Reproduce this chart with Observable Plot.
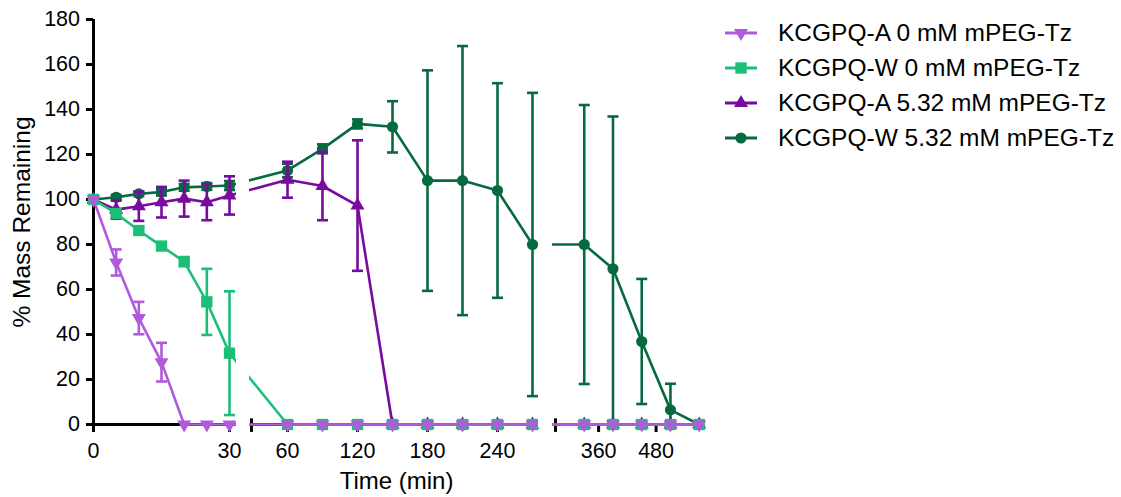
<!DOCTYPE html>
<html><head><meta charset="utf-8">
<script src="https://cdn.jsdelivr.net/npm/d3@7"></script>
<script src="https://cdn.jsdelivr.net/npm/@observablehq/plot@0.6"></script>
<style>
body{margin:0;background:#fff;font-family:"Liberation Sans",Arial,sans-serif;}
#wrap{position:relative;width:1121px;height:497px;overflow:hidden;}
#chart{position:absolute;left:0;top:0;}
#legend{position:absolute;left:725px;top:15px;}
.row{display:flex;align-items:center;height:35px;font-size:24.5px;color:#000;white-space:nowrap;}
.row svg{margin-right:21px;}
</style></head><body><div id="wrap"><div id="chart"></div><div id="legend"></div></div>
<script>
// ---- data ----
const times = [0,5,10,15,20,25,30,60,90,120,150,180,210,240,270,330,390,450,510,570];
const seriesNames = ["KCGPQ-A 0 mM mPEG-Tz","KCGPQ-W 0 mM mPEG-Tz","KCGPQ-A 5.32 mM mPEG-Tz","KCGPQ-W 5.32 mM mPEG-Tz"];
const a0Mean = [100,72,47.3,27.7,0,0,0, 0,0,0,0,0,0,0,0, 0,0,0,0,0];
const a0Err  = [0,5.8,7.2,8.6,0,0,0, 0,0,0,0,0,0,0,0, 0,0,0,0,0];
const w0Mean = [100,93.8,86.2,79.3,72.4,54.5,31.7, 0,0,0,0,0,0,0,0, 0,0,0,0,0];
const w0Err  = [0,1.5,1.5,1,2,14.7,27.5, 0,0,0,0,0,0,0,0, 0,0,0,0,0];
const a5Mean = [100,95.5,97,98.8,100.4,98.8,101.8, 108.8,106,97.3,0,0,0,0,0, 0,0,0,0,0];
const a5Err  = [0,4,6.5,6.8,8,8,8.5, 8,15.2,29,0,0,0,0,0, 0,0,0,0,0];
const w5Mean = [100,101,102.5,103.3,105.4,105.8,106.2, 112.9,122.5,133.6,132.3,108.4,108.4,104,80, 80,69.2,36.9,6.5,0];
const w5Err  = [0,1,1,1.5,1.5,1.5,2, 3,2,2,11.4,49,59.8,47.7,67.4, 62,67.7,27.8,11.6,0];
const xTickTimes = [0,30,60,120,180,240,360,480];
const yTicks = [0,20,40,60,80,100,120,140,160,180];

// ---- broken x axis: time -> continuous axis coordinate ----
function vx(t){
  if (t <= 30) return t*136/30;              // segment 1: 0–30
  if (t <= 270) return 159 + (t-30)*280/240; // segment 2: 30–270
  return 462 + (t-270)*0.479;                // segment 3: 270–
}
const axisSegs = [{a:0,b:143},{a:158,b:444},{a:462,b:612}];
const breaks = [158,462];
const gaps = [{a:143,b:156},{a:445,b:459}];

const colors = ["#B15BDC","#1BBF78","#780A9E","#066A41"];
const symbols = ["triangle","square","triangle","circle"];
const rotates = [180,0,0,0];
const radii = [5.2,6.4,5.2,5.6];
const means = [a0Mean,w0Mean,a5Mean,w5Mean];
const errs = [a0Err,w0Err,a5Err,w5Err];

const cap = {draw(ctx){ ctx.moveTo(-5.5,0); ctx.lineTo(5.5,0); }};
const labelMap = new Map(xTickTimes.map(t => [vx(t), String(t)]));

const marks = [
  Plot.ruleY(axisSegs, {y: () => 0, x1: "a", x2: "b", stroke: "#000", strokeWidth: 3}),
  Plot.ruleX([0], {x: d => d, y1: -3.5, y2: 180, stroke: "#000", strokeWidth: 3}),
  Plot.ruleX(breaks, {x: d => d, y1: -3.5, y2: 2.5, stroke: "#000", strokeWidth: 3}),
  Plot.axisY({ticks: yTicks, tickSize: 7, tickPadding: 6.5, fontSize: 21.5, strokeWidth: 3, label: null}),
  Plot.axisX({ticks: xTickTimes.map(vx), tickFormat: d => labelMap.get(d), tickSize: 8, tickPadding: 10, fontSize: 21.5, strokeWidth: 3, label: null})
];

// draw order: last legend entry at the bottom, first on top
for (const s of [3,2,1,0]) {
  const rows = times.map((t,i) => ({v: vx(t), m: means[s][i], e: errs[s][i]}));
  const withErr = rows.filter(d => d.e > 0);
  marks.push(Plot.line(rows, {x: "v", y: "m", stroke: colors[s], strokeWidth: 2.6}));
  marks.push(Plot.ruleX(withErr, {x: "v", y1: d => Math.max(0, d.m - d.e), y2: d => d.m + d.e, stroke: colors[s], strokeWidth: 2.6}));
  marks.push(Plot.dot(withErr, {x: "v", y: d => d.m + d.e, symbol: cap, fill: "none", stroke: colors[s], strokeWidth: 2.6}));
  marks.push(Plot.dot(withErr.filter(d => d.m - d.e >= 0), {x: "v", y: d => d.m - d.e, symbol: cap, fill: "none", stroke: colors[s], strokeWidth: 2.6}));
  marks.push(Plot.dot(rows, {x: "v", y: "m", symbol: symbols[s], rotate: rotates[s], r: radii[s], fill: colors[s], stroke: "none"}));
}
marks.push(Plot.rect(gaps, {x1: "a", x2: "b", y1: -1.6, y2: 180, fill: "white"}));
marks.push(Plot.text(["Time (min)"], {text: d => d, frameAnchor: "bottom", lineAnchor: "middle", textAnchor: "middle", dy: 57, dx: -7, fontSize: 24}));
marks.push(Plot.text(["% Mass Remaining"], {text: d => d, frameAnchor: "left", lineAnchor: "middle", textAnchor: "middle", rotate: -90, dx: -71, fontSize: 24.5}));

const chart = Plot.plot({
  width: 730, height: 497,
  marginLeft: 93, marginRight: 17, marginTop: 19, marginBottom: 73,
  x: {type: "linear", domain: [0, 620], range: [93, 713]},
  y: {type: "linear", domain: [0, 180], range: [424, 19]},
  style: {fontFamily: "'Liberation Sans', Arial, sans-serif", fontSize: "21.5px", color: "#000", background: "#fff", overflow: "visible"},
  marks
});
document.getElementById("chart").appendChild(chart);

// ---- legend ----
const legend = d3.select("#legend");
seriesNames.forEach((name, s) => {
  const row = legend.append("div").attr("class", "row");
  const svg = row.append("svg").attr("width", 32).attr("height", 20);
  svg.append("line").attr("x1", 0).attr("x2", 32).attr("y1", 10).attr("y2", 10)
    .attr("stroke", colors[s]).attr("stroke-width", 3);
  const type = {triangle: d3.symbolTriangle, square: d3.symbolSquare, circle: d3.symbolCircle}[symbols[s]];
  svg.append("path").attr("d", d3.symbol(type, radii[s]*radii[s]*Math.PI)())
    .attr("transform", `translate(16,10) rotate(${rotates[s]})`).attr("fill", colors[s]);
  row.append("span").text(name);
});
</script>
</body></html>
